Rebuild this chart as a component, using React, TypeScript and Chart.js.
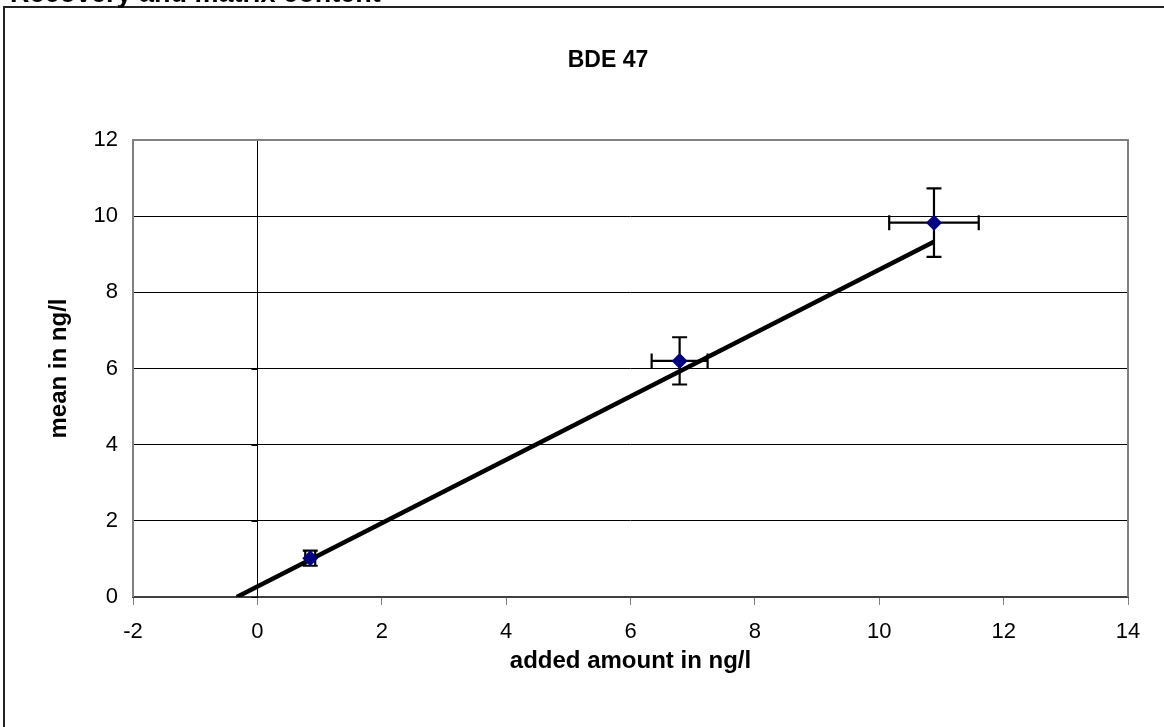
import React, { useEffect, useRef } from "react";
import { Chart, registerables } from "chart.js";

Chart.register(...registerables);

// ---- data ----
const addedAmount = [0.85, 6.79, 10.88];
const meanValue = [1.02, 6.2, 9.83];
const addedError = [0.08, 0.45, 0.72];
const meanError = [0.2, 0.62, 0.9];
const trendX = [-0.33, 10.88];
const trendY = [0, 9.33];
const xTicksMin = -2;
const xTicksMax = 14;
const yTicksMin = 0;
const yTicksMax = 12;
const tickStep = 2;

const headerText = "Recovery and matrix content";
const titleText = "BDE 47";
const xTitle = "added amount in ng/l";
const yTitle = "mean in ng/l";

const FONT = '"Liberation Sans", Arial, sans-serif';

const decorPlugin = {
  id: "decor",
  beforeDraw(chart: any) {
    const ctx = chart.ctx;
    ctx.save();
    ctx.fillStyle = "#ffffff";
    ctx.fillRect(0, 0, chart.width, chart.height);
    // outer frame
    ctx.strokeStyle = "#222222";
    ctx.lineWidth = 2;
    ctx.strokeRect(4, 7, chart.width + 100, chart.height + 100);
    // header text (cut by the page top)
    ctx.fillStyle = "#000000";
    ctx.font = `bold 27px ${FONT}`;
    ctx.textBaseline = "alphabetic";
    ctx.textAlign = "left";
    ctx.fillText(headerText, 10, 2);
    // chart title
    ctx.font = `bold 23px ${FONT}`;
    ctx.textAlign = "center";
    ctx.textBaseline = "middle";
    ctx.fillText(titleText, 608, 61);
    ctx.restore();
  },
  beforeDatasetsDraw(chart: any) {
    const ctx = chart.ctx;
    const { left, right, top, bottom } = chart.chartArea;
    const xs = chart.scales.x;
    const ys = chart.scales.y;
    ctx.save();
    // y-axis line crossing at x = 0
    const x0 = Math.round(xs.getPixelForValue(0)) + 0.5;
    ctx.strokeStyle = "#000000";
    ctx.lineWidth = 1;
    ctx.beginPath();
    ctx.moveTo(x0, top);
    ctx.lineTo(x0, bottom);
    for (const t of ys.ticks) {
      const py = Math.round(ys.getPixelForValue(t.value)) + 0.5;
      ctx.moveTo(x0 - 6, py);
      ctx.lineTo(x0, py);
    }
    ctx.stroke();
    // plot border
    ctx.strokeStyle = "#808080";
    ctx.lineWidth = 2;
    ctx.beginPath();
    ctx.moveTo(left, bottom);
    ctx.lineTo(left, top);
    ctx.lineTo(right, top);
    ctx.lineTo(right, bottom);
    ctx.stroke();
    ctx.restore();
  },
  beforeDatasetDraw(chart: any, args: any) {
    if (args.index !== 0) return;
    const ctx = chart.ctx;
    const xs = chart.scales.x;
    const ys = chart.scales.y;
    const cap = 7.5;
    ctx.save();
    ctx.strokeStyle = "#000000";
    ctx.lineWidth = 2.2;
    ctx.beginPath();
    for (let i = 0; i < addedAmount.length; i++) {
      const cx = xs.getPixelForValue(addedAmount[i]);
      const cy = ys.getPixelForValue(meanValue[i]);
      const yTop = ys.getPixelForValue(meanValue[i] + meanError[i]);
      const yBot = ys.getPixelForValue(meanValue[i] - meanError[i]);
      const xL = xs.getPixelForValue(addedAmount[i] - addedError[i]);
      const xR = xs.getPixelForValue(addedAmount[i] + addedError[i]);
      ctx.moveTo(cx, yTop);
      ctx.lineTo(cx, yBot);
      ctx.moveTo(cx - cap, yTop);
      ctx.lineTo(cx + cap, yTop);
      ctx.moveTo(cx - cap, yBot);
      ctx.lineTo(cx + cap, yBot);
      ctx.moveTo(xL, cy);
      ctx.lineTo(xR, cy);
      ctx.moveTo(xL, cy - cap);
      ctx.lineTo(xL, cy + cap);
      ctx.moveTo(xR, cy - cap);
      ctx.lineTo(xR, cy + cap);
    }
    ctx.stroke();
    ctx.restore();
  },
};

export default function App() {
  const ref = useRef<HTMLCanvasElement | null>(null);
  useEffect(() => {
    if (!ref.current) return;
    const chart = new Chart(ref.current, {
      type: "scatter",
      data: {
        datasets: [
          {
            label: "mean",
            data: addedAmount.map((x, i) => ({ x, y: meanValue[i] })),
            pointStyle: "rectRot",
            pointRadius: 8,
            pointHoverRadius: 8,
            backgroundColor: "#000080",
            borderColor: "#000080",
            borderWidth: 0,
            showLine: false,
          },
          {
            label: "trend",
            data: trendX.map((x, i) => ({ x, y: trendY[i] })),
            showLine: true,
            borderColor: "#000000",
            borderWidth: 4.5,
            pointRadius: 0,
            borderCapStyle: "butt",
          } as any,
        ],
      },
      options: {
        responsive: false,
        animation: false,
        events: [],
        layout: { padding: { top: 140, right: 36, left: 0, bottom: 0 } },
        plugins: {
          legend: { display: false },
          title: { display: false },
          tooltip: { enabled: false },
        },
        scales: {
          x: {
            type: "linear",
            min: xTicksMin,
            max: xTicksMax,
            ticks: {
              stepSize: tickStep,
              color: "#000000",
              font: { family: FONT, size: 22 },
              padding: 14,
            },
            grid: {
              drawOnChartArea: false,
              drawTicks: true,
              tickLength: 8,
              color: "#808080",
              lineWidth: 1,
            },
            border: { display: true, color: "#404040", width: 2 },
            title: {
              display: true,
              text: xTitle,
              color: "#000000",
              font: { family: FONT, size: 24, weight: "bold" },
              padding: { top: 0, bottom: 51 },
            },
            afterFit(scale: any) {
              scale.height = 130;
            },
          },
          y: {
            type: "linear",
            min: yTicksMin,
            max: yTicksMax,
            ticks: {
              stepSize: tickStep,
              color: "#000000",
              font: { family: FONT, size: 22 },
              padding: 15,
            },
            grid: {
              drawTicks: false,
              color: "#000000",
              lineWidth: 1,
            },
            border: { display: false },
            title: {
              display: true,
              text: yTitle,
              color: "#000000",
              font: { family: FONT, size: 24, weight: "bold" },
              padding: { top: 45, bottom: 0 },
            },
            afterFit(scale: any) {
              scale.width = 133;
            },
          },
        },
      } as any,
      plugins: [decorPlugin],
    });
    return () => chart.destroy();
  }, []);
  return (
    <div style={{ position: "absolute", left: 0, top: 0, width: 1164, height: 727 }}>
      <canvas ref={ref} width={1164} height={727} style={{ display: "block" }} />
    </div>
  );
}
